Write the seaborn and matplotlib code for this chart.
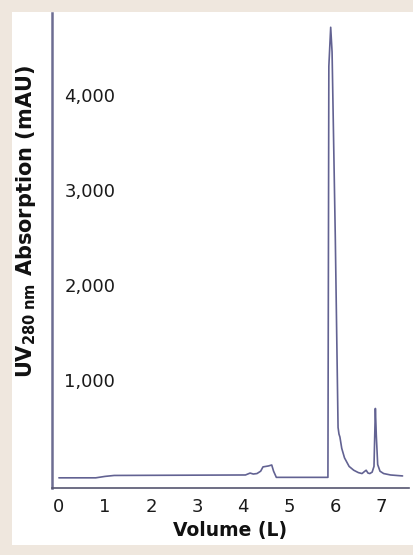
import numpy as np
import pandas as pd
import seaborn as sns
import matplotlib.pyplot as plt
from matplotlib.patches import Rectangle

# chromatogram trace
volume = [0.0, 0.8, 1.0, 1.2, 4.05, 4.15, 4.22, 4.3, 4.38, 4.43, 4.55, 4.62, 4.66, 4.72,
          5.84, 5.86, 5.9, 5.93, 6.0, 6.06, 6.08, 6.1, 6.14, 6.2, 6.3, 6.4, 6.5,
          6.58, 6.63, 6.67, 6.71, 6.75, 6.8, 6.84, 6.87, 6.89, 6.92, 6.97, 7.05,
          7.2, 7.46]
absorb = [-30, -30, -15, -5, 0, 20, 10, 15, 40, 85, 95, 105, 40, -25,
          -25, 4300, 4710, 4450, 2500, 500, 430, 400, 280, 180, 90, 50, 25,
          15, 35, 50, 20, 15, 30, 90, 700, 420, 110, 40, 15, 0, -10]

xticks = [0, 1, 2, 3, 4, 5, 6, 7]
yticks = [1000, 2000, 3000, 4000]
ytick_labels = ['1,000', '2,000', '3,000', '4,000']

df = pd.DataFrame({'Volume': volume, 'Abs': absorb})

sns.set_style('white')
plt.rcParams['font.family'] = ['DejaVu Sans']
plt.rcParams['mathtext.fontset'] = 'dejavusans'

fig = plt.figure(figsize=(4.13, 5.55), dpi=100, facecolor='#efe7de')
fig.patches.append(Rectangle((12 / 413, 10 / 555), 1, 1 - 22 / 555,
                             transform=fig.transFigure, facecolor='white',
                             edgecolor='none', zorder=-5))
ax = fig.add_axes([52 / 413, 1 - 488 / 555, 357 / 413, 475 / 555])
ax.set_zorder(2)
ax.set_facecolor('none')

sns.lineplot(data=df, x='Volume', y='Abs', ax=ax, estimator=None,
             color='#626292', linewidth=1.2)

ax.set_xlim(-0.15, 7.6)
ax.set_ylim(-137, 4860)
ax.set_xticks(xticks)
ax.set_xticklabels([str(t) for t in xticks])
ax.set_yticks(yticks)
ax.set_yticklabels(ytick_labels)
ax.tick_params(axis='both', labelsize=13, colors='#bbbbcc', labelcolor='#1a1a1a',
               direction='inout', length=3, width=0.8, pad=6)
ax.tick_params(axis='y', direction='in', pad=-9)
for t in ax.get_yticklabels():
    t.set_horizontalalignment('left')

for s in ['top', 'right']:
    ax.spines[s].set_visible(False)
ax.spines['left'].set_color('#6d6d92')
ax.spines['left'].set_linewidth(1.8)
ax.spines['bottom'].set_color('#55556f')
ax.spines['bottom'].set_linewidth(1.2)

ax.set_xlabel('Volume (L)', fontsize=13.5, fontweight='bold', color='#111111', labelpad=3)
ax.set_ylabel(r'UV$_{\mathbf{280\ nm}}$ Absorption (mAU)', fontsize=15,
              fontweight='bold', color='#111111')
ax.yaxis.set_label_coords(-0.038, 0.561)

fig.savefig('out.png', dpi=100, facecolor=fig.get_facecolor())
